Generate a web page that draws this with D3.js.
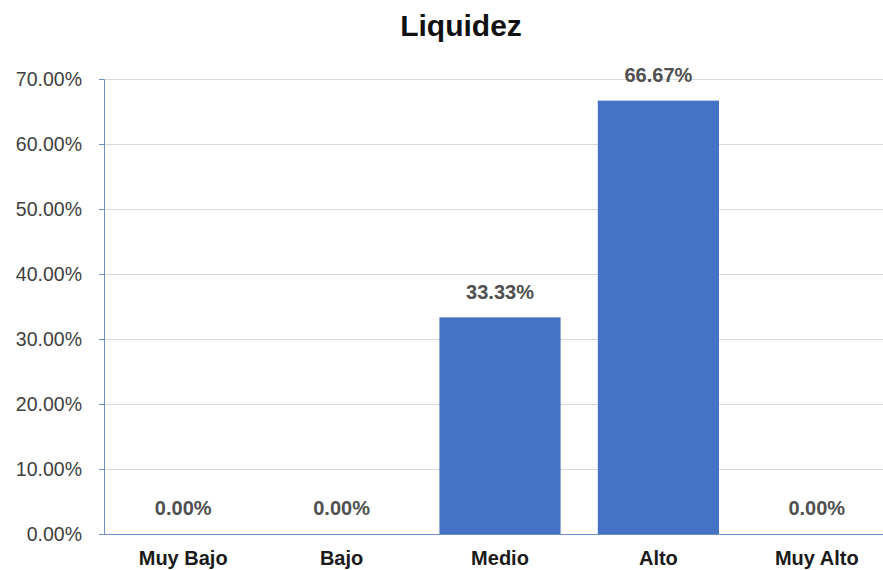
<!DOCTYPE html>
<html><head><meta charset="utf-8">
<script src="https://cdn.jsdelivr.net/npm/d3@7"></script>
<style>body{margin:0;background:#fff}svg{display:block}text{font-family:"Liberation Sans",Arial,sans-serif}</style>
</head><body><svg id="c" width="883" height="570"></svg>
<script>
const categories = ["Muy Bajo","Bajo","Medio","Alto","Muy Alto"];
const values = [0, 0, 33.33, 66.67, 0];
const yTicks = [0,10,20,30,40,50,60,70];
const title = "Liquidez";

(function(){
const svg = d3.select("#c");
const FF = '"Liberation Sans",Arial,sans-serif';
const pLeft = 104, pRight = 896, pTop = 79, pBottom = 534;
const x = d3.scaleBand().domain(categories).range([pLeft, pRight]).paddingInner(0.235).paddingOuter(0.1175);
const y = d3.scaleLinear().domain([0,70]).range([pBottom, pTop]);

svg.append("g").selectAll("line").data(yTicks.filter(d=>d>0)).join("line")
  .attr("x1", pLeft).attr("x2", 883).attr("y1", d=>y(d)+0.5).attr("y2", d=>y(d)+0.5)
  .attr("stroke", "#d9d9d9").attr("stroke-width", 1);

svg.append("g").selectAll("rect").data(values).join("rect")
  .attr("x", (d,i)=>x(categories[i])).attr("width", x.bandwidth())
  .attr("y", d=>y(d)).attr("height", d=>pBottom - y(d)).attr("fill", "#4472c4");

const yAxis = d3.axisLeft(y).tickValues(yTicks).tickSize(5).tickPadding(17).tickFormat(d=>d.toFixed(2)+"%");
const gy = svg.append("g").attr("transform", `translate(${pLeft},0)`).call(yAxis);
gy.select(".domain").attr("stroke", "#6f8fc8");
gy.selectAll(".tick line").attr("stroke", "#6f8fc8");
gy.selectAll(".tick text").attr("font-size", 19.5).attr("fill", "#404040").attr("font-family", FF);

const xAxis = d3.axisBottom(x).tickSize(0).tickPadding(17);
const gx = svg.append("g").attr("transform", `translate(0,${pBottom})`).call(xAxis);
gx.select(".domain").attr("stroke", "#6f8fc8").attr("d", `M${pLeft},0.5H883`);
gx.selectAll(".tick text").attr("font-size", 20).attr("font-weight", "bold").attr("fill", "#1a1a1a").attr("font-family", FF);

svg.append("g").selectAll("text").data(values).join("text")
  .attr("x", (d,i)=>x(categories[i]) + x.bandwidth()/2)
  .attr("y", d=> d === 0 ? 515 : y(d) - 18.5)
  .attr("text-anchor", "middle").attr("font-size", 20).attr("font-weight", "bold").attr("fill", "#505050")
  .text(d=>d.toFixed(2)+"%");

svg.append("text").attr("x", 461).attr("y", 36).attr("text-anchor", "middle")
  .attr("font-size", 30).attr("font-weight", "bold").attr("fill", "#111").text(title);
})();
</script></body></html>
